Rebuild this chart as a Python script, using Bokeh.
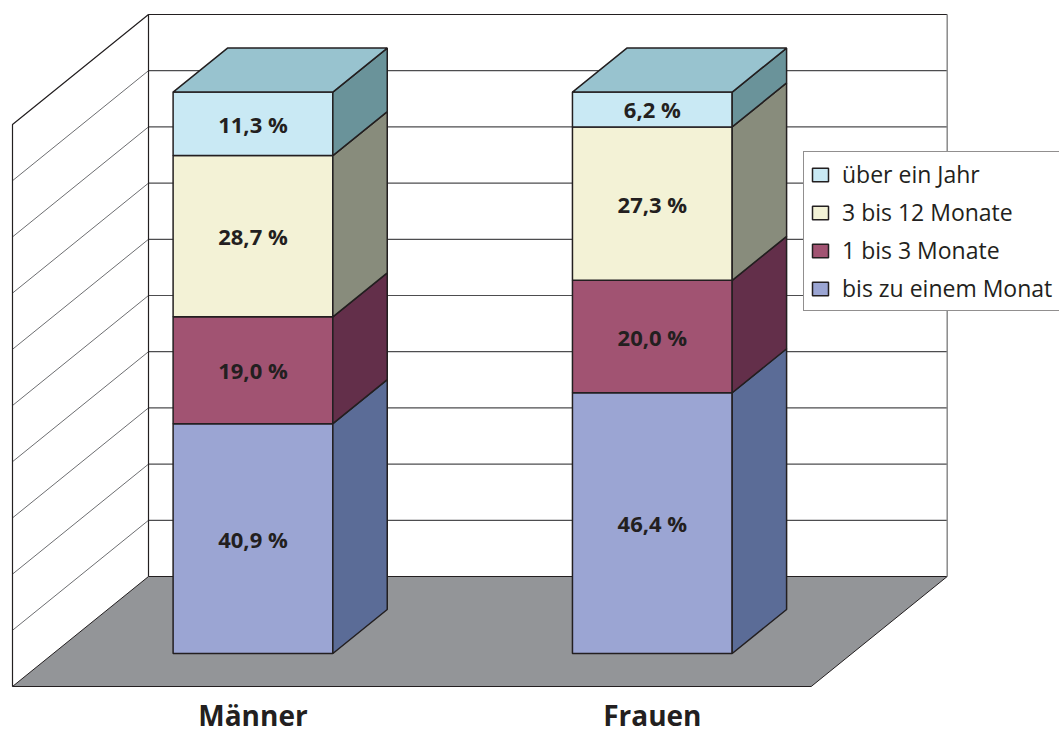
from bokeh.plotting import figure
from bokeh.models import Range1d, Legend, LegendItem, ColumnDataSource
from bokeh.core.properties import value
from bokeh.embed import file_html
from bokeh.resources import INLINE

# ---------------- data ----------------
categories = ["Männer", "Frauen"]
series_names = ["bis zu einem Monat", "1 bis 3 Monate", "3 bis 12 Monate", "über ein Jahr"]
bis_zu_einem_monat = [40.9, 46.4]
ein_bis_drei_monate = [19.0, 20.0]
drei_bis_zwoelf_monate = [28.7, 27.3]
ueber_ein_jahr = [11.3, 6.2]
pct_ticks = [0, 10, 20, 30, 40, 50, 60, 70, 80, 90, 100]

series_values = [bis_zu_einem_monat, ein_bis_drei_monate, drei_bis_zwoelf_monate, ueber_ein_jahr]

# ---------------- styles ----------------
front_colors = ["#9BA5D3", "#A15372", "#F3F2D6", "#C9E9F4"]
side_colors = ["#5B6C97", "#632F4A", "#888C7C", "#6A939A"]
top_color = "#98C3CF"
edge = "#231F20"
floor_color = "#939598"
FONT = "Open Sans"

# ---------------- layout ----------------
W, H = 1059, 733
PX_X = 159.74        # px per x-unit
PX_Y = 5.62          # px per percent
OX, OY = 12, 686     # floor front-left corner (canvas px)
DX = 136 / PX_X      # depth shift in x units
DY = 110 / PX_Y      # depth shift in percent units
FLOOR_W = 5.0
GROUP_W = 2.5
BAR_W = 1.0
Z0, Z1 = 0.3, 0.7


def proj(X, Y, Z):
    return X + Z * DX, Y + Z * DY


def poly(pts):
    xs, ys = [], []
    for X, Y, Z in pts:
        a, b = proj(X, Y, Z)
        xs.append(a)
        ys.append(b)
    return xs, ys


p = figure(width=W, height=H,
           x_range=Range1d((0 - OX) / PX_X, (W - OX) / PX_X),
           y_range=Range1d((OY - H) / PX_Y, OY / PX_Y),
           output_backend="svg", toolbar_location=None, min_border=0,
           x_axis_location=None, y_axis_location=None)
p.xgrid.visible = False
p.ygrid.visible = False
p.outline_line_color = None
p.background_fill_color = "white"
p.border_fill_color = "white"

ymax = pct_ticks[-1]

# walls
bx, by = poly([(0, 0, 1), (FLOOR_W, 0, 1), (FLOOR_W, ymax, 1), (0, ymax, 1)])
p.patch(bx, by, fill_color="white", line_color=None)
lx, ly = poly([(0, 0, 0), (0, 0, 1), (0, ymax, 1), (0, ymax, 0)])
p.patch(lx, ly, fill_color="white", line_color=None)

# grid lines
gxs, gys = [], []
for t in pct_ticks[1:-1]:
    xs, ys = poly([(0, t, 1), (FLOOR_W, t, 1)])
    gxs.append(xs); gys.append(ys)
p.multi_line(gxs, gys, line_color="#4D4D4F", line_width=1.2)
dxs, dys = [], []
for t in pct_ticks[1:-1]:
    xs, ys = poly([(0, t, 0), (0, t, 1)])
    dxs.append(xs); dys.append(ys)
p.multi_line(dxs, dys, line_color="#6D6E71", line_width=1)

# floor
fx, fy = poly([(0, 0, 0), (FLOOR_W, 0, 0), (FLOOR_W, 0, 1), (0, 0, 1)])
p.patch(fx, fy, fill_color=floor_color, line_color=edge, line_width=1)

# wall edges
exs, eys = [], []
for seg in [[(0, 0, 1), (0, ymax, 1), (FLOOR_W, ymax, 1)],
            [(0, 0, 0), (0, ymax, 0), (0, ymax, 1)]]:
    xs, ys = poly(seg)
    exs.append(xs); eys.append(ys)
p.multi_line(exs, eys, line_color=edge, line_width=1.2)
rx, ry = poly([(FLOOR_W, 0, 1), (FLOOR_W, ymax, 1)])
p.line(rx, ry, line_color="#8A8A8A", line_width=1.5)

# bars
centers = [GROUP_W / 2 + GROUP_W * i for i in range(len(categories))]
base = [0.0] * len(categories)
front_renderers = []
lab_x, lab_y, lab_t = [], [], []
for s, vals in enumerate(series_values):
    f_xs, f_ys, s_xs, s_ys = [], [], [], []
    for i, v in enumerate(vals):
        c = centers[i]
        x0, x1 = c - BAR_W / 2, c + BAR_W / 2
        y0, y1 = base[i], base[i] + v
        xs, ys = poly([(x0, y0, Z0), (x1, y0, Z0), (x1, y1, Z0), (x0, y1, Z0)])
        f_xs.append(xs); f_ys.append(ys)
        xs, ys = poly([(x1, y0, Z0), (x1, y0, Z1), (x1, y1, Z1), (x1, y1, Z0)])
        s_xs.append(xs); s_ys.append(ys)
        a, b = proj(c, (y0 + y1) / 2, Z0)
        lab_x.append(a); lab_y.append(b)
        lab_t.append(f"{v:.1f}".replace(".", ",") + " %")
        base[i] = y1
    r = p.patches(f_xs, f_ys, fill_color=front_colors[s], line_color=edge, line_width=1.5)
    front_renderers.append(r)
    p.patches(s_xs, s_ys, fill_color=side_colors[s], line_color=edge, line_width=1.5)

t_xs, t_ys = [], []
for i, c in enumerate(centers):
    x0, x1 = c - BAR_W / 2, c + BAR_W / 2
    xs, ys = poly([(x0, base[i], Z0), (x1, base[i], Z0), (x1, base[i], Z1), (x0, base[i], Z1)])
    t_xs.append(xs); t_ys.append(ys)
p.patches(t_xs, t_ys, fill_color=top_color, line_color=edge, line_width=1.5)

p.text(x="x", y="y", text="t", source=ColumnDataSource(dict(x=lab_x, y=lab_y, t=lab_t)),
       text_font=value(FONT), text_font_style="bold", text_font_size="22px",
       text_color=edge, text_align="center", text_baseline="middle")

# category labels
cat_x = [proj(c, 0, Z0)[0] for c in centers]
cat_y = [(OY - 714) / PX_Y] * len(categories)
p.text(x="x", y="y", text="t", source=ColumnDataSource(dict(x=cat_x, y=cat_y, t=categories)),
       text_font=value(FONT), text_font_style="bold", text_font_size="28px",
       text_color=edge, text_align="center", text_baseline="middle")

# legend
items = [LegendItem(label=series_names[s], renderers=[front_renderers[s]])
         for s in reversed(range(len(series_names)))]
legend = Legend(items=items, location=(803, H - 311),
                label_text_font=FONT, label_text_font_size="23px", label_text_color=edge,
                glyph_width=20, glyph_height=17, label_standoff=12,
                label_height=29, label_width=230, spacing=6, padding=6, margin=0,
                border_line_color=edge, border_line_width=1,
                background_fill_color="white", background_fill_alpha=1.0)
p.add_layout(legend)

open("out.html", "w").write(file_html(p, INLINE))
